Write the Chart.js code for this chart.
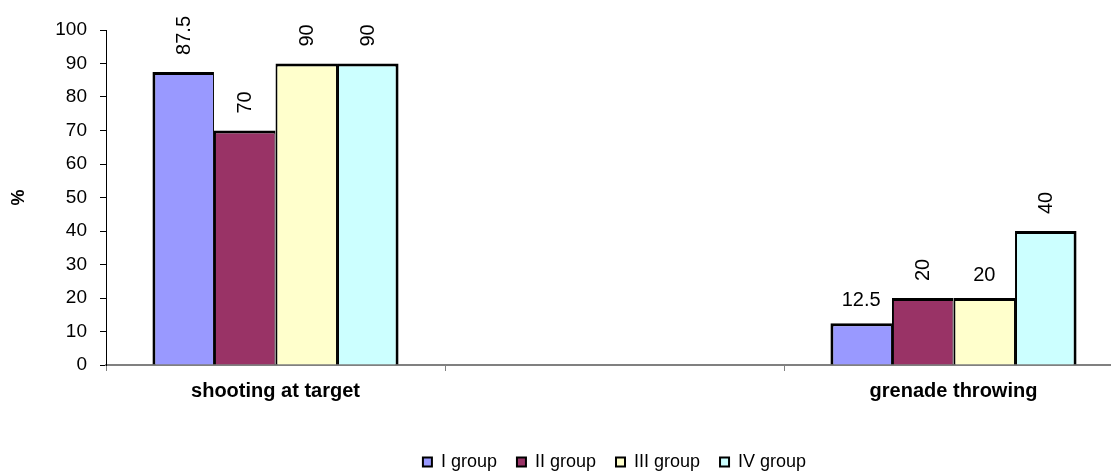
<!DOCTYPE html>
<html>
<head>
<meta charset="utf-8">
<script src="https://cdn.jsdelivr.net/npm/chart.js@4/dist/chart.umd.min.js"></script>
<style>
  html, body { margin: 0; padding: 0; background: #fff; overflow: hidden; }
  #wrap { width: 1111px; height: 471px; overflow: hidden; }
  canvas { display: block; }
</style>
</head>
<body>
<div id="wrap"><canvas id="c" width="1125" height="481"></canvas></div>
<script>
// Categories (the middle slot is intentionally blank)
const categories = ["shooting at target", "", "grenade throwing"];

// Series values, in percent
const groupI   = [87.5, null, 12.5];
const groupII  = [70,   null, 20];
const groupIII = [90,   null, 20];
const groupIV  = [90,   null, 40];

const seriesNames = ["I group", "II group", "III group", "IV group"];
const yTicks = [0, 10, 20, 30, 40, 50, 60, 70, 80, 90, 100];

// Which value labels are drawn upright instead of rotated (per series, per category)
const uprightLabel = [
  [false, false, true],
  [false, false, false],
  [false, false, true],
  [false, false, false]
];

const FONT = "'Liberation Sans', Arial, Helvetica, sans-serif";
Chart.defaults.font.family = FONT;
Chart.defaults.color = '#000';

const colors = ['#9999FF', '#993366', '#FFFFCC', '#CCFFFF'];
const values = [groupI, groupII, groupIII, groupIV];

const datasets = values.map((v, i) => ({
  label: seriesNames[i],
  data: v,
  backgroundColor: colors[i],
  borderColor: '#000',
  // adjacent bars share one 3px outline: 1px from the left bar, 2px from the right one
  borderWidth: (ctx) => ({
    top: 3,
    bottom: 0,
    left: ctx.datasetIndex === 0 ? 3 : 2,
    right: ctx.datasetIndex === values.length - 1 ? 3 : 1
  }),
  borderSkipped: false,
  categoryPercentage: 0.726,
  barPercentage: 1.0
}));

// Value labels above each bar
const valueLabels = {
  id: 'valueLabels',
  afterDatasetsDraw(chart) {
    const ctx = chart.ctx;
    ctx.save();
    ctx.fillStyle = '#000';
    ctx.font = '20px ' + FONT;
    chart.data.datasets.forEach((ds, di) => {
      const meta = chart.getDatasetMeta(di);
      meta.data.forEach((bar, i) => {
        const v = ds.data[i];
        if (v === null || v === undefined) return;
        const txt = String(v);
        const top = bar.y - 17;
        if (uprightLabel[di][i]) {
          ctx.textAlign = 'center';
          ctx.textBaseline = 'alphabetic';
          ctx.fillText(txt, bar.x, top);
        } else {
          ctx.save();
          ctx.translate(bar.x + 1, top);
          ctx.rotate(-Math.PI / 2);
          ctx.textAlign = 'left';
          ctx.textBaseline = 'middle';
          ctx.fillText(txt, 0, 0);
          ctx.restore();
        }
      });
    });
    ctx.restore();
  }
};

new Chart(document.getElementById('c'), {
  type: 'bar',
  data: { labels: categories, datasets },
  options: {
    responsive: false,
    animation: false,
    layout: { padding: { top: 30, right: 2, left: 0, bottom: 0 } },
    plugins: {
      tooltip: { enabled: false },
      legend: {
        position: 'bottom',
        fullSize: false,
        labels: {
          font: { size: 18 },
          boxWidth: 9,
          boxHeight: 9,
          padding: 20,
          color: '#000',
          generateLabels(chart) {
            return chart.data.datasets.map((ds, i) => ({
              text: ds.label,
              fillStyle: ds.backgroundColor,
              strokeStyle: '#000',
              lineWidth: 2,
              hidden: false,
              datasetIndex: i
            }));
          }
        }
      }
    },
    scales: {
      x: {
        offset: true,
        grid: {
          offset: true,
          drawOnChartArea: false,
          drawTicks: true,
          tickLength: 6,
          tickColor: '#808080',
          tickWidth: 1
        },
        border: { color: '#808080', width: 2 },
        ticks: {
          font: { size: 20, weight: 'bold' },
          color: '#000',
          padding: 8,
          maxRotation: 0,
          autoSkip: false
        },
        afterFit(scale) { scale.height = 68; }
      },
      y: {
        min: 0,
        max: 100,
        afterBuildTicks(scale) { scale.ticks = yTicks.map(v => ({ value: v })); },
        grid: {
          drawOnChartArea: false,
          drawTicks: true,
          tickLength: 6,
          tickColor: '#000',
          tickWidth: 1
        },
        border: { color: '#000', width: 1 },
        ticks: {
          font: { size: 19 },
          color: '#000',
          padding: 13
        },
        title: {
          display: true,
          text: '%',
          font: { size: 18, weight: 'bold' },
          color: '#000',
          padding: { top: 8, bottom: 0 }
        },
        afterFit(scale) { scale.width = 106; }
      }
    }
  },
  plugins: [valueLabels]
});
</script>
</body>
</html>
